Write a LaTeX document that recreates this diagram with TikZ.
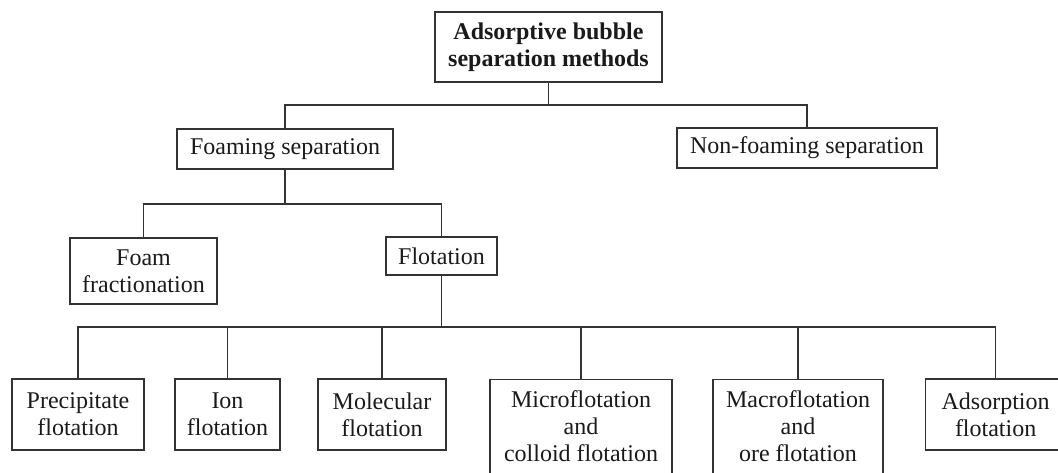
\documentclass[tikz,border=0pt]{standalone}
\usepackage{fontspec}
\setmainfont{Liberation Serif}
\usetikzlibrary{positioning}
\definecolor{ink}{HTML}{1A1A1A}
\definecolor{edge}{HTML}{333333}
\tikzset{
  txt/.style={font=\fontsize{24}{27}\selectfont, text=ink},
  box/.style={txt, draw=edge, line width=1.3pt, fill=white, inner sep=4pt, align=center},
  rootbox/.style={box, font=\bfseries\fontsize{24}{27}\selectfont},
  leafbox/.style={box, minimum height=71pt},
  tallbox/.style={box, anchor=north, inner ysep=11pt, text depth=40pt},
  link/.style={draw=edge, line width=1.3pt}
}

\begin{document}
\begin{tikzpicture}[x=1pt,y=1pt]
\useasboundingbox (0,0) rectangle (1058,473);

\node[rootbox, minimum width=227pt, minimum height=70pt] (root) at (548.5,426)
{Adsorptive bubble\\separation methods};

\node[box, minimum width=216pt, minimum height=40pt] (foaming) at (285,324) {Foaming separation};
\node[box, minimum width=260pt, minimum height=40pt] (nonfoaming) at (807,325) {Non-foaming separation};

\node[box, minimum width=147pt, minimum height=66pt] (fractionation) at (143.5,202) {Foam\\fractionation};
\node[box, minimum width=111pt, minimum height=38pt] (flotation) at (441.5,217) {Flotation};

\node[leafbox, minimum width=132pt] (precipitate) at (78,58.5) {Precipitate\\flotation};
\node[leafbox, minimum width=105pt] (ion) at (227.5,58.5) {Ion\\flotation};
\node[leafbox, minimum width=128pt] (molecular) at (382,58.5) {Molecular\\flotation};
\node[tallbox, minimum width=182pt] (micro) at (581,94) {Microflotation\\and\\colloid flotation};
\node[tallbox, minimum width=170pt] (macro) at (798,94) {Macroflotation\\and\\ore flotation};
\node[leafbox, minimum width=140pt, anchor=west, text width=128pt] (adsorption) at (925,58.5) {Adsorption\\flotation};

\coordinate (j1) at (548.5,368);
\draw[link] (root.south) -- (j1) -| (foaming.north);
\draw[link] (j1) -| (nonfoaming.north);

\coordinate (j2) at (285,269);
\draw[link] (foaming.south) -- (j2) -| (fractionation.north);
\draw[link] (j2) -| (flotation.north);

\coordinate (j3) at (441.5,146);
\draw[link] (flotation.south) -- (j3);
\foreach \leaf in {precipitate,ion,molecular,micro,macro,adsorption}
  \draw[link] (j3) -| (\leaf.north);

\end{tikzpicture}
\end{document}
